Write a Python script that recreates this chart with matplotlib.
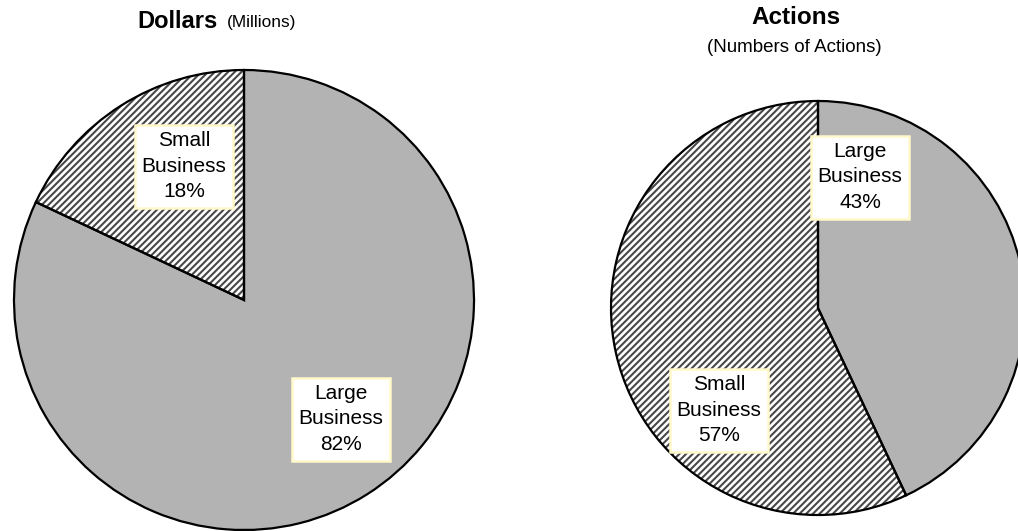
import matplotlib
matplotlib.use("Agg")
import matplotlib.pyplot as plt

plt.rcParams['font.family'] = ['Liberation Sans', 'DejaVu Sans']
plt.rcParams['hatch.linewidth'] = 1.5

# Data
categories = ["Small\nBusiness", "Large\nBusiness"]
dollars_pct = [18, 82]
actions_pct = [57, 43]

W, H = 1018, 531
fig = plt.figure(figsize=(W / 100, H / 100), dpi=100)
ax = fig.add_axes([0, 0, 1, 1])

def py(y):
    return H - y

gray = '#b3b3b3'
hatch_col = '#484848'

def draw_pie(values, center, radius):
    wedges, _ = ax.pie(values, startangle=90, counterclock=True,
                       center=center, radius=radius,
                       colors=['white', gray],
                       wedgeprops=dict(linewidth=0, edgecolor=hatch_col))
    wedges[0].set_hatch('/////')
    wedges[0].set_edgecolor(hatch_col)
    wedges[1].set_edgecolor('none')
    ax.pie(values, startangle=90, counterclock=True,
           center=center, radius=radius,
           colors=['none', 'none'],
           wedgeprops=dict(linewidth=1.6, edgecolor='black', fill=False))

draw_pie(dollars_pct, (244, py(300)), 230)
draw_pie(actions_pct, (818, py(308)), 207)

box = dict(boxstyle='square,pad=0.3', facecolor='white', edgecolor='#fff8c8', linewidth=1.8)

def label(x, y, cat, pct):
    ax.text(x, py(y), f"{cat}\n{pct}%", ha='center', va='center',
            fontsize=15, color='black', bbox=box, linespacing=1.45)

label(184, 166, categories[0], dollars_pct[0])
label(341, 419, categories[1], dollars_pct[1])
label(860, 177, categories[1], actions_pct[1])
label(719, 410, categories[0], actions_pct[0])

# Titles
ax.text(218, py(22), "Dollars", ha='right', va='center', fontsize=17, fontweight='bold')
ax.text(227, py(23), "(Millions)", ha='left', va='center', fontsize=12.4)
ax.text(796, py(17), "Actions", ha='center', va='center', fontsize=17.5, fontweight='bold')
ax.text(794, py(48), "(Numbers of Actions)", ha='center', va='center', fontsize=13.5)

ax.set_xlim(0, W)
ax.set_ylim(0, H)
ax.set_aspect('equal')
ax.axis('off')

fig.savefig("out.png", dpi=100)
